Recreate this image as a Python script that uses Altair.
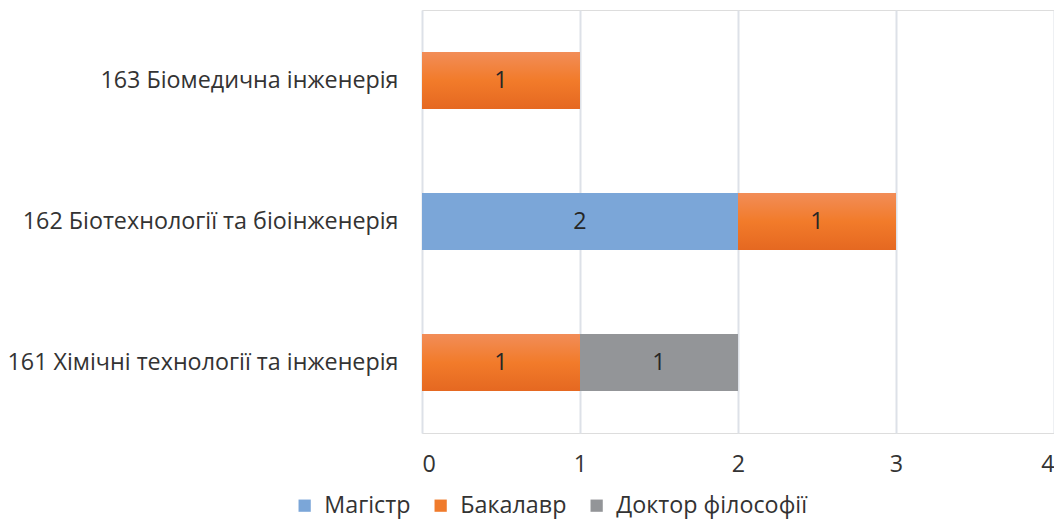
import altair as alt
import pandas as pd

categories = ["161 Хімічні технології та інженерія", "162 Біотехнології та біоінженерія", "163 Біомедична інженерія"]
series = ["Магістр", "Бакалавр", "Доктор філософії"]
magistr = [0, 2, 0]
bakalavr = [1, 1, 1]
doktor = [1, 0, 0]
colors = ["#7BA6D8", "#F07B2C", "#939598"]

rows = []
for i, c in enumerate(categories):
    for j, (s, vals) in enumerate(zip(series, [magistr, bakalavr, doktor])):
        if vals[i] > 0:
            rows.append({"cat": c, "series": s, "value": vals[i], "order": j})
df = pd.DataFrame(rows)

FONT = "Open Sans"
FS = 23.3
ysort = categories[::-1]

base = alt.Chart(df).transform_stack(
    stack="value", groupby=["cat"], as_=["x0", "x1"], sort=[alt.SortField("order")]
).transform_calculate(mid="(datum.x0 + datum.x1) / 2")

yenc = alt.Y("cat:N", sort=ysort, title=None,
             scale=alt.Scale(paddingInner=0.6, paddingOuter=0.3),
             axis=alt.Axis(labelFontSize=FS, labelFont=FONT, labelColor="#333333",
                           labelPadding=24, ticks=False, domain=False, labelLimit=500))
xenc = alt.X("x0:Q", title=None, scale=alt.Scale(domain=[0, 4], nice=False),
             axis=alt.Axis(values=[0, 1, 2, 3, 4], format="d", labelFontSize=FS, labelFont=FONT,
                           labelColor="#333333", labelPadding=20, ticks=False, domain=False,
                           grid=True, gridColor="#DDE1E8", gridWidth=2))

bars = base.mark_bar(size=57).encode(
    y=yenc,
    x=xenc,
    x2="x1:Q",
    color=alt.Color("series:N", scale=alt.Scale(domain=series, range=colors),
                    sort=series,
                    legend=alt.Legend(title=None, orient="none", direction="horizontal",
                                      legendX=-129, legendY=484, labelFontSize=FS, labelFont=FONT,
                                      labelColor="#333333", symbolType="square", symbolSize=150,
                                      symbolStrokeWidth=0, columnPadding=18, labelOffset=8,
                                      labelLimit=400)),
)

grad = alt.Gradient(gradient="linear", x1=0, x2=0, y1=0, y2=1,
                    stops=[alt.GradientStop(color="#F28D58", offset=0),
                           alt.GradientStop(color="#F27B2A", offset=0.5),
                           alt.GradientStop(color="#E56821", offset=1)])

orange = base.transform_filter(alt.datum.series == "Бакалавр").mark_bar(size=57, color=grad).encode(
    y=alt.Y("cat:N", sort=ysort),
    x="x0:Q",
    x2="x1:Q",
)

labels = base.mark_text(fontSize=FS, font=FONT, color="#262626", baseline="middle").encode(
    y=alt.Y("cat:N", sort=ysort),
    x="mid:Q",
    text=alt.Text("value:Q", format="d"),
)

chart = alt.layer(bars, orange, labels).properties(
    width=632, height=423,
    autosize=alt.AutoSizeParams(type="none"),
    padding={"left": 414, "top": 2, "right": 0, "bottom": 89},
).configure_view(stroke=None).configure(background="white")

chart.save("out.html", embed_options={"renderer": "svg", "actions": False})
